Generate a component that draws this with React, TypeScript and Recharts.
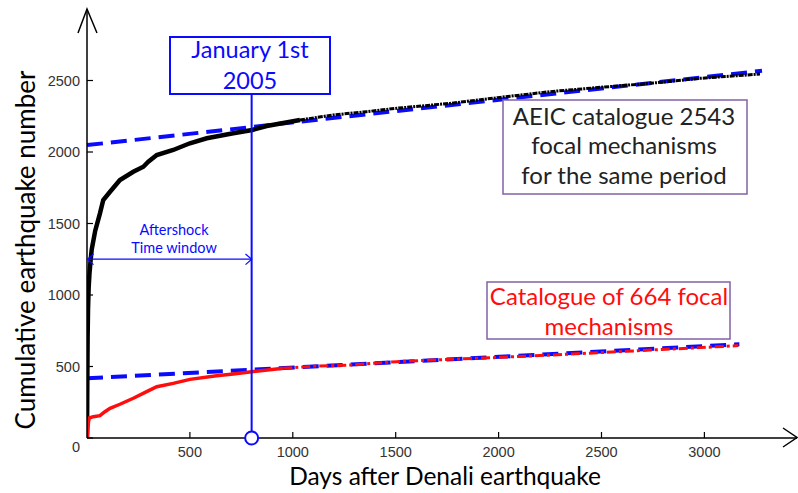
import { LineChart, Line, XAxis, YAxis, ReferenceLine, ReferenceDot } from "recharts"

// AEIC catalogue, cumulative count vs days after Denali earthquake
const aeicDays = [0, 1, 2, 3, 5, 8, 12, 18, 23, 40, 63, 79, 112, 160, 225, 274, 298, 339, 419, 500, 582, 711, 803, 873, 1035, 1197, 1359, 1505, 1764, 2007, 2250, 2493, 2736, 2978, 3270]
const aeicCounts = [0, 250, 500, 700, 900, 1050, 1150, 1250, 1320, 1450, 1571, 1664, 1722, 1804, 1862, 1897, 1932, 1979, 2014, 2061, 2096, 2131, 2154, 2182, 2224, 2259, 2282, 2306, 2340, 2382, 2422, 2452, 2480, 2515, 2545]

// catalogue of 664 focal mechanisms
const focalDays = [0, 3, 7, 11, 31, 63, 87, 112, 160, 225, 290, 339, 419, 500, 630, 711, 800, 954, 1116, 1278, 1505, 1764, 2007, 2250, 2493, 2736, 2978, 3165]
const focalCounts = [0, 40, 110, 140, 149, 156, 184, 208, 236, 278, 324, 359, 382, 410, 436, 448, 464, 487, 503, 510, 534, 550, 564, 580, 597, 615, 632, 646]

// fitted background rates (dashed)
const aeicTrendDays = [0, 3280]
const aeicTrendCounts = [2048, 2568]
const focalTrendDays = [0, 3170]
const focalTrendCounts = [417, 655]

const xTicks = [500, 1000, 1500, 2000, 2500, 3000]
const yTicks = [0, 500, 1000, 1500, 2000, 2500]

const jan2005 = 800

const toPoints = (days: number[], counts: number[]) =>
    days.map((d, i) => ({ day: d, count: counts[i] }))

const aeic = toPoints(aeicDays, aeicCounts)
const focal = toPoints(focalDays, focalCounts)
const aeicSplit = aeicDays.indexOf(1035)
const focalSplit = focalDays.indexOf(954)

const BLUE = "#0a0aff"
const RED = "#ff0d0d"
const PURPLE = "#8162a6"
const tickFont = "'Liberation Sans', Arial, sans-serif"
const textFont = "Lato, 'Open Sans', sans-serif"

function YTick(props: any) {
    const { x, y, payload } = props
    const shift = payload.value === 0 ? 9 : 0
    return (
        <text x={x} y={y + shift} dy="0.355em" textAnchor="end" fill="#333" fontSize={14.5} fontFamily={tickFont}>
            {payload.value}
        </text>
    )
}

export default function App() {
    return (
        <div style={{ position: "absolute", left: 0, top: 0, width: 798, height: 493, background: "#fff" }}>
            <LineChart width={798} height={493} margin={{ top: 9, right: 1, bottom: 0, left: 0 }}>
                <XAxis
                    type="number"
                    dataKey="day"
                    domain={[0, 3450]}
                    ticks={xTicks}
                    allowDataOverflow
                    height={55}
                    tickSize={-6}
                    tickMargin={15}
                    axisLine={{ stroke: "#000", strokeWidth: 1.5 }}
                    tickLine={{ stroke: "#000", strokeWidth: 1.2 }}
                    tick={{ fill: "#333", fontSize: 14.5, fontFamily: tickFont }}
                />
                <YAxis
                    type="number"
                    domain={[0, 3000]}
                    ticks={yTicks}
                    allowDataOverflow
                    width={87}
                    tickSize={-6}
                    tickMargin={13}
                    axisLine={{ stroke: "#000", strokeWidth: 1.5 }}
                    tickLine={{ stroke: "#000", strokeWidth: 1.2 }}
                    tick={<YTick />}
                />

                <Line data={toPoints(aeicTrendDays, aeicTrendCounts)} dataKey="count" type="linear" stroke={BLUE} strokeWidth={4} strokeDasharray="16 8" dot={false} isAnimationActive={false} />
                <Line data={toPoints(focalTrendDays, focalTrendCounts)} dataKey="count" type="linear" stroke={BLUE} strokeWidth={4} strokeDasharray="16 8" dot={false} isAnimationActive={false} />

                <Line data={aeic.slice(0, aeicSplit + 1)} dataKey="count" type="linear" stroke="#000" strokeWidth={4.5} dot={false} isAnimationActive={false} />
                <Line data={aeic.slice(aeicSplit)} dataKey="count" type="linear" stroke="#000" strokeWidth={3} strokeDasharray="5 1 2 1" dot={false} isAnimationActive={false} />
                <Line data={focal.slice(0, focalSplit + 1)} dataKey="count" type="linear" stroke={RED} strokeWidth={3.5} dot={false} isAnimationActive={false} />
                <Line data={focal.slice(focalSplit)} dataKey="count" type="linear" stroke={RED} strokeWidth={3} strokeDasharray="9 3 3 3" dot={false} isAnimationActive={false} />

                <ReferenceLine segment={[{ x: jan2005, y: 0 }, { x: jan2005, y: 2406 }]} stroke={BLUE} strokeWidth={2} />
                <ReferenceLine segment={[{ x: 0, y: 1251 }, { x: jan2005, y: 1251 }]} stroke={BLUE} strokeWidth={1.2} />
                <ReferenceDot x={jan2005} y={0} r={6.5} fill="#fff" stroke={BLUE} strokeWidth={2} />
            </LineChart>

            <svg width={798} height={493} style={{ position: "absolute", left: 0, top: 0, pointerEvents: "none" }}>
                {/* axis titles */}
                <text x={445} y={485} textAnchor="middle" fontSize={24.5} fontFamily={textFont} fill="#000">
                    Days after Denali earthquake
                </text>
                <text x={35} y={250} transform="rotate(-90 35 250)" textAnchor="middle" fontSize={26} fontFamily={textFont} fill="#000">
                    Cumulative earthquake number
                </text>
                {/* axis arrow heads */}
                <polyline points="78,33 87,9 97,33" fill="none" stroke="#000" strokeWidth={1.5} />
                <polyline points="783,428 797,437.5 783,447" fill="none" stroke="#000" strokeWidth={1.5} />
                {/* aftershock window arrow heads */}
                <polyline points="245.5,254 251.7,259.3 245.5,264.6" fill="none" stroke={BLUE} strokeWidth={1.2} />
                <polyline points="93.5,254 87.5,259.3 93.5,264.6" fill="none" stroke={BLUE} strokeWidth={1.2} />
                <text x={174} y={235} textAnchor="middle" fontSize={14.5} fontFamily={textFont} fill={BLUE}>Aftershock</text>
                <text x={174} y={253} textAnchor="middle" fontSize={14.5} fontFamily={textFont} fill={BLUE}>Time window</text>

                <rect x={170} y={37} width={160} height={57} fill="#fff" stroke={BLUE} strokeWidth={2} />
                <text x={250} y={58} textAnchor="middle" fontSize={23.5} fontFamily={textFont} fill={BLUE}>January 1st</text>
                <text x={250} y={89} textAnchor="middle" fontSize={23.5} fontFamily={textFont} fill={BLUE}>2005</text>

                <rect x={503} y={100} width={244} height={94} fill="#fff" stroke={PURPLE} strokeWidth={1.5} />
                <text x={624} y={125} textAnchor="middle" fontSize={24} fontFamily={textFont} fill="#222">AEIC catalogue 2543</text>
                <text x={624} y={154} textAnchor="middle" fontSize={24} fontFamily={textFont} fill="#222">focal mechanisms</text>
                <text x={624} y={184} textAnchor="middle" fontSize={24} fontFamily={textFont} fill="#222">for the same period</text>

                <rect x={487} y={282} width={243} height={57} fill="#fff" stroke={PURPLE} strokeWidth={1.5} />
                <text x={609} y={305} textAnchor="middle" fontSize={24} fontFamily={textFont} fill={RED}>Catalogue of 664 focal</text>
                <text x={609} y={335} textAnchor="middle" fontSize={24} fontFamily={textFont} fill={RED}>mechanisms</text>
            </svg>
        </div>
    )
}
